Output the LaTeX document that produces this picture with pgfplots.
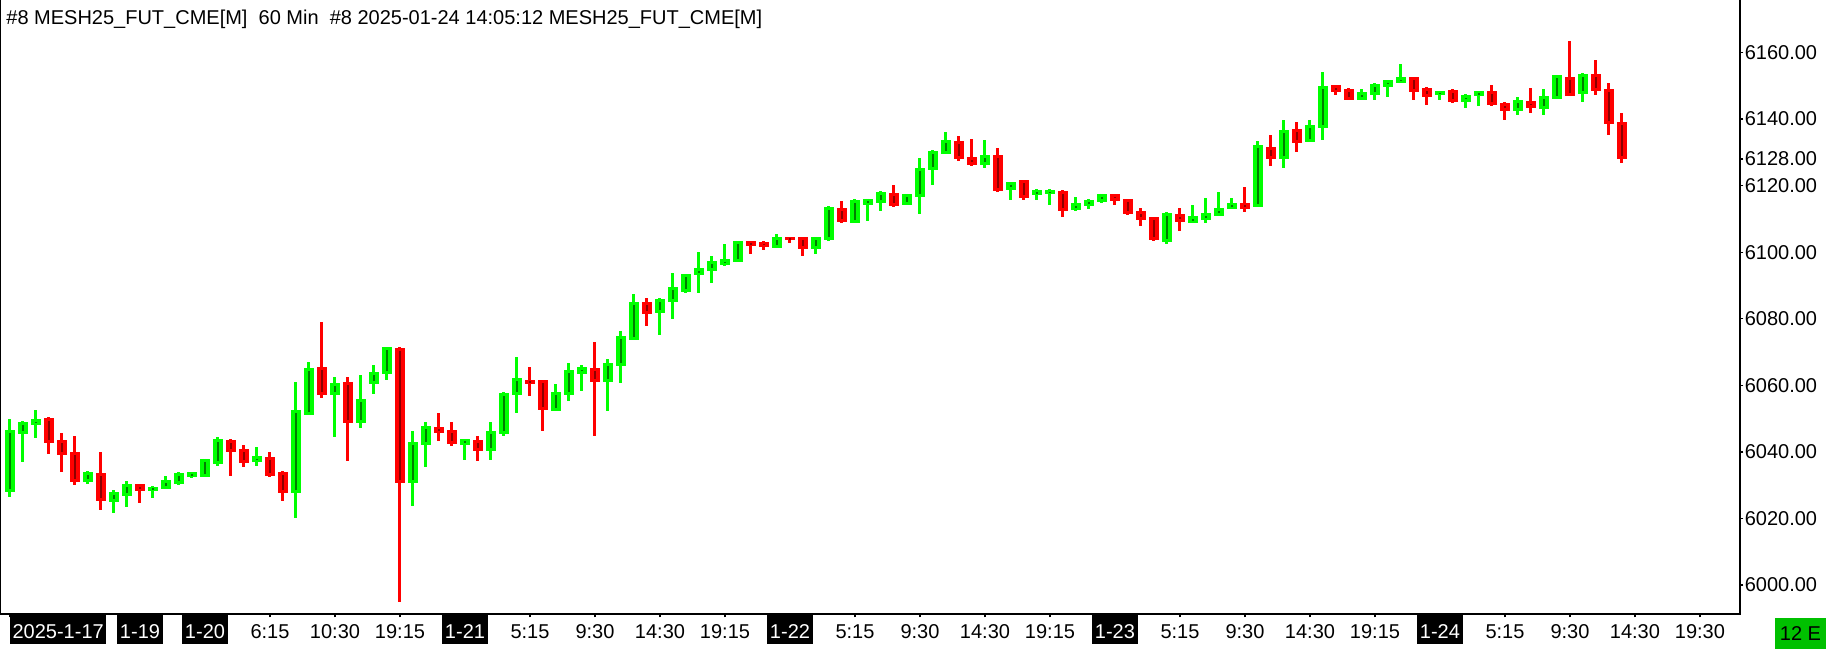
\documentclass[border=0pt]{standalone}
\usepackage{pgfplots}
\pgfplotsset{compat=1.18}
\usepackage{pgfplotstable}
\usepackage{fontspec}
\setmainfont{Liberation Sans}
\definecolor{cg}{RGB}{0,255,0}
\definecolor{cgd}{RGB}{0,125,0}
\definecolor{cr}{RGB}{255,0,0}
\definecolor{crd}{RGB}{140,0,0}
\definecolor{boxg}{RGB}{0,192,0}
\newcommand\dl[1]{{\setlength{\fboxsep}{0pt}\colorbox{black}{\rule[-2.6pt]{0pt}{14.2pt}\hspace{1.3pt}\textcolor{white}{#1}\hspace{1.3pt}}}}

\pgfplotstableread{
i O H L C
0 6028.1 6050.0 6026.4 6046.6
1 6045.6 6049.3 6036.9 6049.0
2 6048.1 6052.7 6044.2 6049.8
6 6031.1 6034.2 6030.4 6034.1
8 6024.9 6028.4 6021.5 6027.9
9 6026.9 6031.2 6023.4 6030.4
11 6028.2 6029.7 6026.2 6029.6
12 6028.9 6032.7 6028.7 6031.7
13 6030.4 6033.9 6030.2 6033.8
14 6032.6 6034.1 6032.2 6033.9
15 6032.6 6038.0 6032.4 6037.9
16 6036.4 6044.6 6035.7 6043.9
19 6036.9 6041.4 6035.7 6038.6
22 6027.7 6061.1 6020.0 6052.6
23 6051.3 6067.0 6051.0 6065.3
25 6057.1 6062.6 6044.4 6060.6
27 6048.7 6063.0 6047.1 6055.8
28 6060.6 6066.2 6057.3 6064.3
29 6063.3 6071.6 6061.5 6071.4
31 6030.7 6046.4 6023.6 6043.2
32 6042.2 6049.1 6035.6 6047.8
35 6042.2 6044.0 6037.6 6043.8
37 6040.4 6049.1 6037.6 6046.4
38 6045.4 6057.9 6044.9 6057.7
39 6057.1 6068.5 6051.6 6062.3
42 6052.5 6060.5 6052.3 6058.0
43 6057.1 6066.8 6055.2 6064.5
44 6063.6 6066.2 6058.2 6065.5
46 6061.0 6067.9 6052.2 6066.8
47 6065.8 6076.3 6060.6 6074.7
48 6073.7 6087.4 6073.5 6085.0
50 6081.9 6086.2 6075.2 6085.9
51 6085.2 6093.9 6080.0 6089.5
52 6088.2 6093.5 6087.7 6093.4
53 6093.1 6100.1 6087.7 6095.4
54 6094.6 6098.9 6090.7 6097.4
55 6096.1 6102.6 6096.0 6097.9
56 6097.1 6103.5 6097.0 6103.4
59 6101.6 6105.6 6101.5 6104.8
62 6100.9 6104.7 6099.4 6104.6
63 6103.6 6113.8 6103.5 6113.6
65 6108.8 6116.0 6108.7 6115.8
66 6114.3 6116.1 6109.3 6116.0
67 6115.0 6118.4 6112.3 6118.2
69 6114.3 6117.6 6114.2 6117.5
70 6116.8 6128.2 6111.6 6125.5
71 6124.7 6130.6 6120.2 6130.5
72 6129.5 6136.2 6129.4 6133.8
75 6126.3 6133.7 6125.3 6129.3
77 6118.7 6121.1 6115.8 6121.0
79 6117.2 6119.0 6115.7 6118.8
80 6117.5 6119.0 6114.2 6118.8
82 6112.6 6116.5 6112.5 6114.9
83 6114.0 6116.0 6112.9 6115.8
84 6115.0 6117.6 6114.9 6117.5
89 6103.3 6112.0 6102.4 6111.9
91 6108.8 6114.3 6108.7 6110.9
92 6109.8 6116.2 6108.8 6111.7
93 6110.9 6118.0 6110.8 6113.3
94 6113.0 6116.2 6112.9 6115.0
96 6113.6 6133.5 6113.5 6132.3
98 6128.0 6139.6 6125.2 6136.9
100 6133.3 6139.6 6133.2 6138.2
101 6137.5 6154.2 6133.8 6149.9
104 6145.7 6149.1 6145.6 6148.2
105 6147.2 6150.7 6145.7 6150.6
106 6149.7 6151.8 6146.6 6151.7
107 6150.9 6156.4 6150.8 6152.7
110 6147.2 6148.5 6145.7 6148.4
112 6145.2 6147.5 6143.2 6147.4
113 6146.9 6148.5 6143.9 6148.4
116 6142.6 6146.7 6141.2 6145.7
118 6143.2 6148.9 6141.2 6146.9
119 6146.1 6153.3 6146.0 6153.2
121 6147.6 6153.7 6145.2 6153.6
}\greens

\pgfplotstableread{
i O H L C
3 6050.1 6050.4 6039.4 6042.6
4 6043.7 6045.8 6033.9 6039.2
5 6040.1 6044.7 6030.1 6030.9
7 6033.9 6039.9 6022.6 6025.4
10 6030.4 6030.5 6024.7 6028.2
17 6043.7 6043.8 6032.7 6040.1
18 6040.8 6042.0 6035.4 6036.6
20 6038.6 6039.9 6032.8 6032.9
21 6034.1 6034.2 6025.2 6027.7
24 6065.6 6079.0 6056.1 6057.1
26 6061.0 6062.6 6037.2 6048.7
30 6071.4 6071.6 5994.8 6030.7
33 6047.6 6051.8 6043.4 6045.6
34 6046.6 6049.1 6041.9 6042.6
36 6043.6 6044.7 6037.4 6040.4
40 6061.8 6065.6 6056.7 6060.6
41 6061.6 6061.7 6046.2 6052.8
45 6065.3 6073.0 6044.7 6061.0
49 6085.0 6086.2 6077.7 6081.5
57 6103.4 6103.5 6099.6 6101.8
58 6103.3 6103.5 6100.8 6101.8
60 6104.6 6104.7 6102.9 6103.8
61 6104.6 6104.7 6098.8 6100.9
64 6113.3 6115.3 6109.0 6109.1
68 6117.8 6120.2 6113.9 6114.0
73 6133.5 6134.8 6127.5 6128.0
74 6128.8 6134.0 6126.2 6126.3
76 6129.3 6131.3 6118.3 6118.4
78 6121.7 6121.8 6115.8 6116.2
81 6118.5 6118.7 6110.6 6112.6
85 6117.5 6117.6 6114.3 6115.5
86 6116.0 6116.1 6111.1 6111.6
87 6112.5 6113.3 6107.9 6109.8
88 6110.6 6110.7 6103.7 6103.8
90 6111.6 6113.3 6106.3 6109.1
95 6114.8 6119.5 6112.1 6113.2
97 6131.8 6135.1 6125.8 6128.2
99 6137.1 6139.0 6130.0 6133.0
102 6150.2 6150.3 6147.2 6148.2
103 6149.2 6149.3 6145.8 6145.9
108 6152.6 6152.7 6145.7 6148.2
109 6149.4 6149.5 6144.2 6146.9
111 6148.9 6149.0 6145.1 6145.2
114 6148.4 6150.1 6144.1 6144.2
115 6144.9 6145.0 6139.7 6142.6
117 6145.7 6149.4 6141.9 6143.4
120 6152.9 6163.5 6147.1 6147.2
122 6153.6 6157.9 6147.2 6148.4
123 6149.1 6150.7 6135.3 6138.6
124 6139.4 6141.9 6126.7 6128.3
}\reds

\begin{document}
\begin{tikzpicture}[x=1pt,y=1pt]
\useasboundingbox (0,0) rectangle (913.5,324.5);
\fill[white] (0,0) rectangle (913.5,324.5);
\begin{axis}[
  at={(0pt,17.5pt)}, anchor=south west,
  width=870pt, height=307pt, scale only axis,
  xmin=-0.769, xmax=133.08,
  ymin=5991.29, ymax=6175.78,
  axis line style={draw=none},
  clip=false,
  tick align=outside,
  major tick length=1.7pt,
  tick style={black, line width=0.7pt},
  xtick={0,10,15,20,25,30,35,40,45,50,55,60,65,70,75,80,85,90,95,100,105,110,115,120,125,130},
  xticklabels={\makebox[0pt][l]{\dl{2025-1-17}},\dl{1-19},\dl{1-20},6:15,10:30,19:15,\dl{1-21},5:15,9:30,14:30,19:15,\dl{1-22},5:15,9:30,14:30,19:15,\dl{1-23},5:15,9:30,14:30,19:15,\dl{1-24},5:15,9:30,14:30,19:30},
  xticklabel style={anchor=base, inner sep=0pt, yshift=-10.5pt, font=\fontsize{10}{12}\selectfont},
  ytick={6000,6020,6040,6060,6080,6100,6120,6128,6140,6160},
  ytick pos=right,
  yticklabel pos=right,
  yticklabel style={anchor=west, inner sep=0pt, xshift=0.5pt, font=\fontsize{10}{12}\selectfont,
    /pgf/number format/.cd, fixed, fixed zerofill, precision=2, 1000 sep={}, assume math mode=true},
  xtick pos=bottom,
]
% wicks
\addplot[draw=none, mark=none, forget plot,
  error bars/.cd, y dir=both, y explicit, error mark=none,
  error bar style={draw=cg, line width=1.5pt}]
  table[x=i, y=C, y error plus expr={\thisrow{H}-\thisrow{C}}, y error minus expr={\thisrow{C}-\thisrow{L}}]{\greens};
\addplot[draw=none, mark=none, forget plot,
  error bars/.cd, y dir=both, y explicit, error mark=none,
  error bar style={draw=cr, line width=1.5pt}]
  table[x=i, y=C, y error plus expr={\thisrow{H}-\thisrow{C}}, y error minus expr={\thisrow{C}-\thisrow{L}}]{\reds};
% bodies
\addplot[draw=none, mark=none, forget plot,
  error bars/.cd, y dir=both, y explicit, error mark=none,
  error bar style={draw=cg, line width=5pt}]
  table[x=i, y expr={(\thisrow{O}+\thisrow{C})/2}, y error expr={max(abs(\thisrow{C}-\thisrow{O})/2,0.35)}]{\greens};
\addplot[draw=none, mark=none, forget plot,
  error bars/.cd, y dir=both, y explicit, error mark=none,
  error bar style={draw=cr, line width=5pt}]
  table[x=i, y expr={(\thisrow{O}+\thisrow{C})/2}, y error expr={max(abs(\thisrow{C}-\thisrow{O})/2,0.35)}]{\reds};
% inner dark lines
\addplot[draw=none, mark=none, forget plot,
  error bars/.cd, y dir=both, y explicit, error mark=none,
  error bar style={draw=cgd, line width=0.7pt}]
  table[x=i, y expr={(\thisrow{O}+\thisrow{C})/2}, y error expr={max(abs(\thisrow{C}-\thisrow{O})/2-0.9,0.15)}]{\greens};
\addplot[draw=none, mark=none, forget plot,
  error bars/.cd, y dir=both, y explicit, error mark=none,
  error bar style={draw=crd, line width=0.7pt}]
  table[x=i, y expr={(\thisrow{O}+\thisrow{C})/2}, y error expr={max(abs(\thisrow{C}-\thisrow{O})/2-0.9,0.15)}]{\reds};
\draw[black, line width=0.8pt] (rel axis cs:0,1) -- (rel axis cs:0,0) -- (rel axis cs:1,0) -- (rel axis cs:1,1);
\end{axis}
\node[anchor=west, inner sep=0pt, font=\fontsize{10}{12}\selectfont] at (3,315)
  {\#8 MESH25\_FUT\_CME[M]\ \ 60 Min\ \ \#8 2025-01-24 14:05:12 MESH25\_FUT\_CME[M]};
\node[fill=boxg, anchor=south west, minimum width=25.7pt, minimum height=15.4pt, inner sep=0pt,
  font=\fontsize{10}{12}\selectfont] at (887.2,0) {12 E};
\end{tikzpicture}
\end{document}
